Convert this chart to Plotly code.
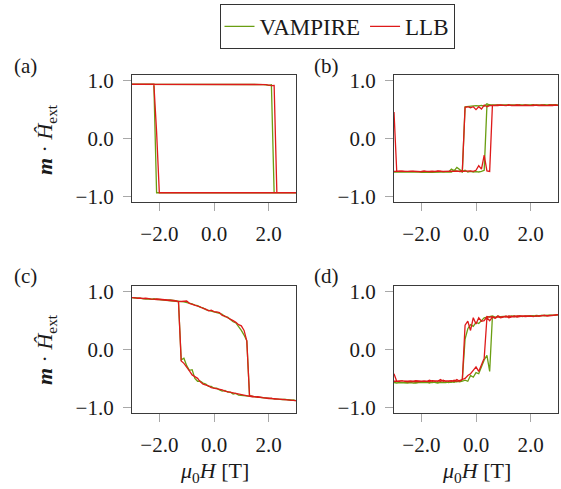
import plotly.graph_objects as go

# ---------------- data ----------------
# field grid (T), ascending
FIELD = [-3.0, -2.9, -2.8, -2.7, -2.6, -2.5, -2.4, -2.3, -2.2, -2.1,
         -2.0, -1.9, -1.8, -1.7, -1.6, -1.5, -1.4, -1.3, -1.2, -1.1,
         -1.0, -0.9, -0.8, -0.7, -0.6, -0.5, -0.4, -0.3, -0.2, -0.1,
         0.0, 0.1, 0.2, 0.3, 0.4, 0.5, 0.6, 0.7, 0.8, 0.9,
         1.0, 1.1, 1.2, 1.3, 1.4, 1.5, 1.6, 1.7, 1.8, 1.9,
         2.0, 2.1, 2.2, 2.3, 2.4, 2.5, 2.6, 2.7, 2.8, 2.9, 3.0]

# "up" = sweep from -3 to +3, "down" = sweep from +3 to -3 (both listed in FIELD order)
# panel (a)
a_vamp_up = [0.94, 0.94, 0.945, 0.94, 0.94, 0.94, 0.945, 0.94, 0.94, 0.94,
             0.94, 0.94, 0.94, 0.945, 0.94, 0.94, 0.94, 0.94, 0.945, 0.94,
             0.94, 0.94, 0.94, 0.94, 0.945, 0.94, 0.94, 0.94, 0.94, 0.94,
             0.94, 0.945, 0.94, 0.94, 0.94, 0.94, 0.94, 0.945, 0.94, 0.94,
             0.94, 0.94, 0.94, 0.94, 0.945, 0.94, 0.94, 0.94, 0.935, 0.93,
             0.92, 0.93, -0.94, -0.94, -0.945, -0.94, -0.94, -0.94, -0.945, -0.94, -0.94]
a_vamp_down = [0.94, 0.945, 0.94, 0.94, 0.94, 0.94, 0.94, 0.94, 0.94, -0.94,
               -0.94, -0.935, -0.94, -0.94, -0.945, -0.94, -0.94, -0.94, -0.935, -0.94,
               -0.94, -0.94, -0.945, -0.94, -0.94, -0.94, -0.935, -0.94, -0.94, -0.94,
               -0.94, -0.94, -0.94, -0.945, -0.94, -0.94, -0.94, -0.94, -0.935, -0.94,
               -0.94, -0.945, -0.94, -0.94, -0.94, -0.94, -0.935, -0.94, -0.94, -0.94,
               -0.94, -0.94, -0.945, -0.94, -0.94, -0.935, -0.94, -0.94, -0.94, -0.945, -0.94]
a_llb_up = [0.94, 0.945, 0.94, 0.94, 0.94, 0.945, 0.94, 0.94, 0.94, 0.94,
            0.94, 0.94, 0.945, 0.94, 0.94, 0.94, 0.94, 0.945, 0.94, 0.94,
            0.94, 0.945, 0.94, 0.94, 0.94, 0.94, 0.945, 0.94, 0.94, 0.94,
            0.945, 0.94, 0.94, 0.94, 0.945, 0.94, 0.94, 0.94, 0.94, 0.945,
            0.94, 0.94, 0.945, 0.94, 0.94, 0.94, 0.94, 0.94, 0.94, 0.935,
            0.925, 0.915, 0.92, -0.94, -0.94, -0.945, -0.94, -0.94, -0.935, -0.94, -0.94]
a_llb_down = [0.94, 0.94, 0.94, 0.945, 0.94, 0.94, 0.94, 0.94, 0.94, 0.11,
              -0.94, -0.94, -0.935, -0.94, -0.94, -0.94, -0.945, -0.94, -0.94, -0.94,
              -0.935, -0.94, -0.94, -0.94, -0.94, -0.945, -0.94, -0.94, -0.94, -0.935,
              -0.94, -0.94, -0.945, -0.94, -0.94, -0.94, -0.94, -0.935, -0.94, -0.94,
              -0.94, -0.94, -0.94, -0.945, -0.94, -0.94, -0.94, -0.94, -0.935, -0.94,
              -0.94, -0.945, -0.94, -0.94, -0.94, -0.94, -0.935, -0.94, -0.94, -0.94, -0.94]

# panel (b)
b_vamp_up = [-0.58, -0.585, -0.58, -0.575, -0.58, -0.585, -0.58, -0.58, -0.575, -0.58,
             -0.585, -0.58, -0.575, -0.58, -0.585, -0.58, -0.575, -0.58, -0.58, -0.585,
             -0.58, -0.53, -0.56, -0.5, -0.54, -0.57, -0.55, -0.58, -0.57, -0.58,
             -0.575, -0.58, -0.57, -0.55, 0.57, 0.58, 0.575, 0.58, 0.585, 0.58,
             0.575, 0.58, 0.585, 0.575, 0.58, 0.58, 0.585, 0.575, 0.58, 0.58,
             0.58, 0.585, 0.575, 0.58, 0.58, 0.585, 0.58, 0.575, 0.58, 0.585, 0.58]
b_vamp_down = [-0.58, -0.575, -0.58, -0.585, -0.58, -0.58, -0.575, -0.58, -0.585, -0.58,
               -0.58, -0.575, -0.58, -0.585, -0.58, -0.58, -0.58, -0.575, -0.58, -0.58,
               -0.575, -0.58, -0.55, -0.57, -0.56, -0.58, 0.55, 0.56, 0.57, 0.565,
               0.57, 0.565, 0.575, 0.56, 0.6, 0.58, 0.575, 0.58, 0.585, 0.575,
               0.58, 0.575, 0.58, 0.585, 0.58, 0.575, 0.58, 0.58, 0.585, 0.58,
               0.575, 0.58, 0.585, 0.58, 0.575, 0.58, 0.58, 0.585, 0.58, 0.575, 0.58]
b_llb_up = [0.46, -0.57, -0.565, -0.57, -0.575, -0.57, -0.565, -0.57, -0.57, -0.575,
            -0.57, -0.56, -0.57, -0.575, -0.565, -0.57, -0.56, -0.57, -0.575, -0.57,
            -0.565, -0.57, -0.57, -0.56, -0.575, -0.57, -0.565, -0.57, -0.56, -0.57,
            -0.55, -0.47, -0.53, -0.29, -0.56, -0.57, 0.57, 0.575, 0.57, 0.58,
            0.575, 0.57, 0.58, 0.575, 0.57, 0.58, 0.575, 0.57, 0.58, 0.575,
            0.57, 0.58, 0.575, 0.57, 0.58, 0.575, 0.57, 0.58, 0.575, 0.57, 0.575]
b_llb_down = [-0.57, -0.575, -0.57, -0.565, -0.57, -0.575, -0.57, -0.565, -0.57, -0.57,
              -0.575, -0.57, -0.565, -0.57, -0.575, -0.57, -0.57, -0.565, -0.57, -0.575,
              -0.57, -0.565, -0.57, -0.575, -0.57, -0.56, 0.54, 0.55, 0.53, 0.55,
              0.5, 0.55, 0.51, 0.58, 0.55, 0.57, 0.575, 0.57, 0.58, 0.575,
              0.57, 0.575, 0.58, 0.57, 0.575, 0.58, 0.575, 0.57, 0.575, 0.58,
              0.575, 0.57, 0.58, 0.575, 0.57, 0.575, 0.58, 0.575, 0.57, 0.58, 0.575]

# panel (c)
c_vamp_up = [0.895, 0.9, 0.89, 0.885, 0.89, 0.88, 0.88, 0.87, 0.875, 0.87,
             0.865, 0.87, 0.86, 0.855, 0.86, 0.85, 0.84, 0.835, 0.83, 0.825,
             0.815, 0.81, 0.79, 0.77, 0.76, 0.73, 0.72, 0.69, 0.68, 0.665,
             0.66, 0.64, 0.625, 0.61, 0.57, 0.56, 0.52, 0.48, 0.46, 0.4,
             0.33, 0.25, 0.15, -0.8, -0.815, -0.82, -0.825, -0.83, -0.84, -0.845,
             -0.85, -0.855, -0.85, -0.86, -0.865, -0.87, -0.865, -0.875, -0.88, -0.875, -0.885]
c_vamp_down = [0.9, 0.89, 0.895, 0.885, 0.885, 0.875, 0.88, 0.87, 0.875, 0.865,
               0.86, 0.865, 0.85, 0.855, 0.845, 0.84, 0.835, 0.83, -0.18, -0.15,
               -0.28, -0.36, -0.35, -0.5, -0.55, -0.55, -0.58, -0.6, -0.64, -0.64,
               -0.67, -0.67, -0.7, -0.72, -0.71, -0.74, -0.74, -0.77, -0.76, -0.79,
               -0.79, -0.8, -0.81, -0.81, -0.82, -0.825, -0.83, -0.835, -0.835, -0.845,
               -0.845, -0.85, -0.855, -0.86, -0.86, -0.865, -0.87, -0.87, -0.875, -0.88, -0.885]
c_llb_up = [0.9, 0.895, 0.9, 0.89, 0.885, 0.89, 0.88, 0.875, 0.87, 0.875,
            0.87, 0.865, 0.86, 0.865, 0.855, 0.85, 0.845, 0.83, 0.835, 0.84,
            0.84, 0.8, 0.78, 0.77, 0.75, 0.74, 0.71, 0.7, 0.67, 0.68,
            0.655, 0.65, 0.64, 0.59, 0.58, 0.55, 0.53, 0.5, 0.47, 0.43,
            0.41, 0.33, 0.15, -0.8, -0.81, -0.82, -0.815, -0.83, -0.835, -0.84,
            -0.845, -0.85, -0.855, -0.86, -0.86, -0.865, -0.87, -0.87, -0.875, -0.88, -0.885]
c_llb_down = [0.895, 0.9, 0.885, 0.89, 0.88, 0.885, 0.875, 0.88, 0.87, 0.865,
              0.865, 0.86, 0.855, 0.86, 0.85, 0.845, 0.84, 0.83, -0.2, -0.24,
              -0.3, -0.37, -0.44, -0.47, -0.5, -0.56, -0.6, -0.62, -0.63, -0.66,
              -0.66, -0.68, -0.69, -0.7, -0.72, -0.73, -0.75, -0.76, -0.77, -0.78,
              -0.79, -0.8, -0.8, -0.81, -0.82, -0.815, -0.83, -0.83, -0.84, -0.84,
              -0.85, -0.845, -0.86, -0.855, -0.865, -0.87, -0.865, -0.875, -0.88, -0.88, -0.885]

# panel (d)
d_vamp_up = [-0.57, -0.58, -0.575, -0.58, -0.585, -0.58, -0.575, -0.58, -0.58, -0.575,
             -0.58, -0.575, -0.57, -0.58, -0.56, -0.575, -0.58, -0.57, -0.575, -0.56,
             -0.575, -0.56, -0.57, -0.55, -0.56, -0.55, -0.53, -0.55, -0.45, -0.48,
             -0.4, -0.42, -0.3, -0.18, -0.1, -0.38, 0.57, 0.55, 0.58, 0.56,
             0.57, 0.575, 0.56, 0.58, 0.57, 0.575, 0.58, 0.57, 0.58, 0.575,
             0.58, 0.585, 0.575, 0.585, 0.59, 0.585, 0.59, 0.59, 0.595, 0.59, 0.6]
d_vamp_down = [-0.575, -0.58, -0.57, -0.575, -0.58, -0.575, -0.57, -0.58, -0.575, -0.57,
               -0.57, -0.575, -0.56, -0.57, -0.575, -0.565, -0.57, -0.56, -0.57, -0.575,
               -0.56, -0.57, -0.55, -0.56, -0.55, -0.52, 0.18, 0.36, 0.43, 0.4,
               0.47, 0.45, 0.5, 0.55, 0.55, 0.57, 0.58, 0.56, 0.575, 0.57,
               0.575, 0.57, 0.58, 0.575, 0.58, 0.57, 0.58, 0.575, 0.585, 0.58,
               0.585, 0.58, 0.59, 0.585, 0.59, 0.585, 0.59, 0.595, 0.59, 0.595, 0.6]
d_llb_up = [-0.42, -0.55, -0.545, -0.55, -0.555, -0.55, -0.545, -0.55, -0.54, -0.55,
            -0.55, -0.545, -0.55, -0.53, -0.55, -0.545, -0.55, -0.52, -0.55, -0.545,
            -0.55, -0.54, -0.55, -0.52, -0.55, -0.52, -0.5, -0.45, -0.42, -0.36,
            -0.3, -0.38, -0.26, -0.15, 0.55, 0.5, 0.56, 0.54, 0.57, 0.55,
            0.56, 0.58, 0.55, 0.57, 0.58, 0.56, 0.57, 0.58, 0.57, 0.575,
            0.58, 0.57, 0.585, 0.575, 0.58, 0.59, 0.58, 0.585, 0.59, 0.595, 0.6]
d_llb_down = [-0.55, -0.555, -0.55, -0.545, -0.55, -0.56, -0.55, -0.545, -0.55, -0.555,
              -0.55, -0.545, -0.55, -0.555, -0.54, -0.55, -0.545, -0.55, -0.53, -0.55,
              -0.545, -0.55, -0.53, -0.55, -0.54, -0.52, 0.42, 0.49, 0.33, 0.55,
              0.44, 0.55, 0.49, 0.5, 0.57, 0.56, 0.57, 0.55, 0.58, 0.56,
              0.57, 0.56, 0.58, 0.57, 0.565, 0.58, 0.57, 0.58, 0.575, 0.58,
              0.58, 0.575, 0.585, 0.58, 0.585, 0.59, 0.585, 0.59, 0.595, 0.59, 0.6]

SERIES = ["VAMPIRE", "LLB"]
PANEL_LABELS = ["(a)", "(b)", "(c)", "(d)"]
X_TICKS = [-2, 0, 2]
X_TICKTEXT = ["\u22122.0", "0.0", "2.0"]
Y_TICKS = [-1, 0, 1]
Y_TICKTEXT = ["\u22121.0", "0.0", "1.0"]

PANEL_DATA = [
    (a_vamp_up, a_vamp_down, a_llb_up, a_llb_down),
    (b_vamp_up, b_vamp_down, b_llb_up, b_llb_down),
    (c_vamp_up, c_vamp_down, c_llb_up, c_llb_down),
    (d_vamp_up, d_vamp_down, d_llb_up, d_llb_down),
]

# ---------------- layout helpers ----------------
W, HGT = 561, 489
FONT = "Liberation Serif"
GREEN = "#6a9e12"
RED = "#de1a1a"


def px_x(p):
    return p / W


def px_y(p):
    return 1 - p / HGT


# pixel boxes (left, right, top, bottom)
BOXES = [(132, 296, 75, 202), (394, 558, 75, 202),
         (132, 296, 286, 413), (394, 558, 286, 413)]

fig = go.Figure()
for k, (vu, vd, lu, ld) in enumerate(PANEL_DATA):
    ax = "" if k == 0 else str(k + 1)
    xs = FIELD + FIELD[::-1]
    for name, up, down, col in ((SERIES[0], vu, vd, GREEN), (SERIES[1], lu, ld, RED)):
        fig.add_trace(go.Scatter(
            x=xs, y=up + down[::-1], mode="lines", name=name,
            line=dict(color=col, width=1.3),
            showlegend=(k == 0), legendgroup=name,
            xaxis="x" + ax, yaxis="y" + ax))

common = dict(showgrid=False, zeroline=False, showline=True, mirror=True,
              linecolor="#3a3a3a", linewidth=1.2, ticks="outside", ticklen=8,
              tickwidth=1.3, tickcolor="#a8a8a8", automargin=False,
              tickfont=dict(family=FONT, size=21, color="#1a1a1a"))

layout = dict(width=W, height=HGT, margin=dict(l=0, r=0, t=0, b=0),
              paper_bgcolor="white", plot_bgcolor="white",
              font=dict(family=FONT, size=21, color="#1a1a1a"))
for k, (l, r, t, b) in enumerate(BOXES):
    ax = "" if k == 0 else str(k + 1)
    layout["xaxis" + ax] = dict(common, domain=[px_x(l), px_x(r)], range=[-3, 3],
                                tickvals=X_TICKS, ticktext=X_TICKTEXT,
                                anchor="y" + ax, ticklabelstandoff=5)
    layout["yaxis" + ax] = dict(common, domain=[px_y(b), px_y(t)], range=[-1.1, 1.1],
                                tickvals=Y_TICKS, ticktext=Y_TICKTEXT,
                                anchor="x" + ax, ticklabelstandoff=5)

fig.update_layout(**layout)

ann = []
label_pos = [(25, 66), (326, 66), (25, 276), (326, 276)]
for lab, (x, y) in zip(PANEL_LABELS, label_pos):
    ann.append(dict(text=lab, x=px_x(x), y=px_y(y), xref="paper", yref="paper",
                    xanchor="center", yanchor="middle",
                    showarrow=False, font=dict(family=FONT, size=21, color="#1a1a1a")))
ytitle = "<b><i>m</i></b> \u00b7 <i>\u0124</i><sub>ext</sub>"
for yc in (140, 350):
    ann.append(dict(text=ytitle, x=px_x(46), y=px_y(yc), xref="paper", yref="paper",
                    xanchor="center", yanchor="middle",
                    showarrow=False, textangle=-90,
                    font=dict(family=FONT, size=22, color="#1a1a1a")))
xtitle = "<i>\u03bc</i><sub>0</sub><i>H</i> [T]"
for xc in (214, 476):
    ann.append(dict(text=xtitle, x=px_x(xc), y=px_y(472), xref="paper", yref="paper",
                    xanchor="center", yanchor="middle",
                    showarrow=False, font=dict(family=FONT, size=22, color="#1a1a1a")))
fig.update_layout(annotations=ann)

fig.update_layout(legend=dict(
    orientation="h", x=px_x(337), y=px_y(4), xanchor="center", yanchor="top",
    bordercolor="#333333", borderwidth=1, bgcolor="white",
    font=dict(family=FONT, size=23, color="#1a1a1a"), tracegroupgap=0))

fig.write_html("out.html", config={"displayModeBar": False},
               post_script="document.body.style.margin='0';document.body.style.overflow='hidden';")
